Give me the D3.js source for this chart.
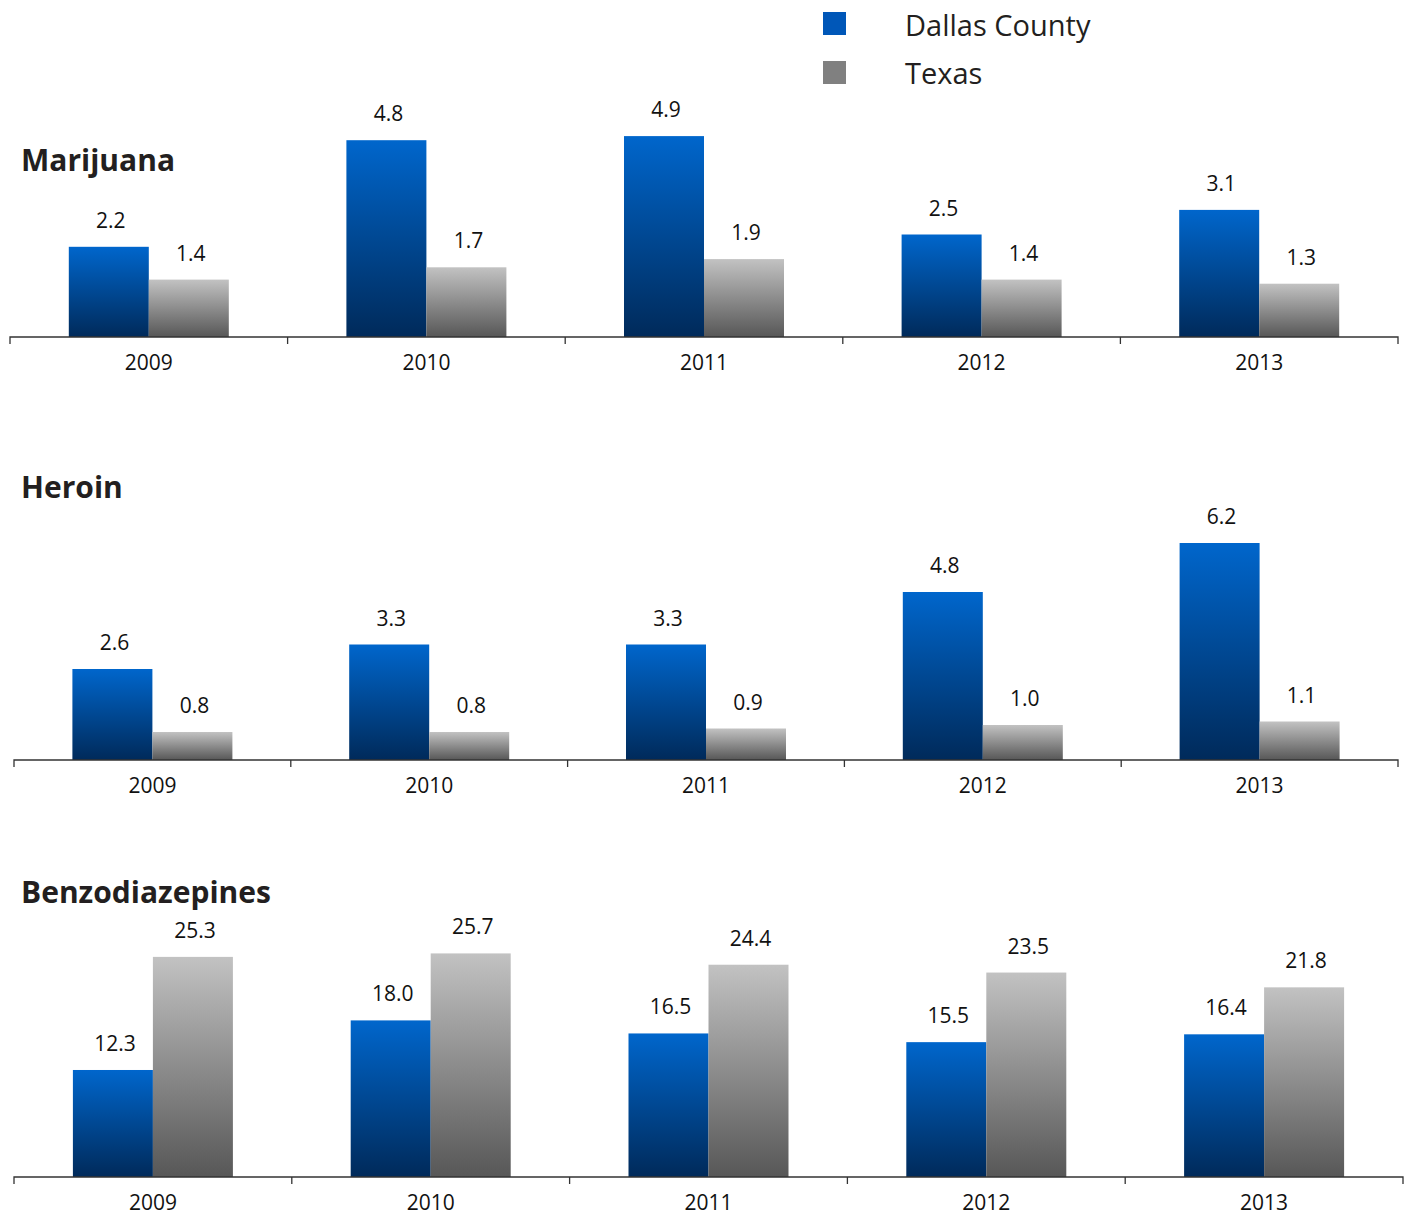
<!DOCTYPE html>
<meta charset="utf-8">
<style>
body { margin: 0; background: #fff; }
text { font-family: "Open Sans", sans-serif; fill: #111; }
.title { font-size: 30px; font-weight: bold; fill: #231f20; }
.val { font-size: 21px; text-anchor: middle; }
.axis text { font-size: 21px; fill: #111; }
.axis path, .axis line { stroke: #333; stroke-width: 1.3; }
.legend text { font-size: 29px; fill: #231f20; }
</style>
<body>
<script src="https://cdn.jsdelivr.net/npm/d3@7"></script>
<script>
var years = ["2009", "2010", "2011", "2012", "2013"];
var series = ["Dallas County", "Texas"];

var marijuanaDallas = [2.2, 4.8, 4.9, 2.5, 3.1],
    marijuanaTexas  = [1.4, 1.7, 1.9, 1.4, 1.3];
var heroinDallas = [2.6, 3.3, 3.3, 4.8, 6.2],
    heroinTexas  = [0.8, 0.8, 0.9, 1.0, 1.1];
var benzoDallas = [12.3, 18.0, 16.5, 15.5, 16.4],
    benzoTexas  = [25.3, 25.7, 24.4, 23.5, 21.8];

var width = 1408, height = 1216;

var svg = d3.select("body").append("svg")
    .attr("width", width)
    .attr("height", height);

// gradients for the bars (per bar, top to bottom)
var defs = svg.append("defs");
function grad(id, top, bottom) {
  var g = defs.append("linearGradient").attr("id", id)
      .attr("x1", 0).attr("y1", 0).attr("x2", 0).attr("y2", 1);
  g.append("stop").attr("offset", "0%").attr("stop-color", top);
  g.append("stop").attr("offset", "100%").attr("stop-color", bottom);
}
grad("gBlue", "#0066cc", "#002a5a");
grad("gGrey", "#c2c2c2", "#575757");

function panel(opts) {
  var x = d3.scaleBand().domain(years).range([opts.left, opts.right]);
  var pad = (x.bandwidth() / 80 - 2) / 2;
  var xs = d3.scaleBand().domain(series).range([0, x.bandwidth()]).paddingOuter(pad);
  var y = d3.scaleLinear().domain([0, opts.max])
      .range([opts.base, opts.base - opts.max * opts.px]);

  svg.append("text")
      .attr("class", "title")
      .attr("x", 21).attr("y", opts.titleY)
      .text(opts.title);

  var rows = years.map(function(yr, i) {
    return {year: yr, vals: [
      {s: "Dallas County", v: opts.dallas[i]},
      {s: "Texas", v: opts.texas[i]}
    ]};
  });

  var grp = svg.selectAll(null)
      .data(rows)
    .enter().append("g")
      .attr("transform", function(d) { return "translate(" + x(d.year) + ",0)"; });

  grp.selectAll("rect")
      .data(function(d) { return d.vals; })
    .enter().append("rect")
      .attr("x", function(d) { return xs(d.s); })
      .attr("width", xs.bandwidth())
      .attr("y", function(d) { return y(d.v); })
      .attr("height", function(d) { return y(0) - y(d.v); })
      .attr("fill", function(d) { return d.s == "Texas" ? "url(#gGrey)" : "url(#gBlue)"; });

  grp.selectAll(".val")
      .data(function(d) { return d.vals; })
    .enter().append("text")
      .attr("class", "val")
      .attr("x", function(d) { return xs(d.s) + xs.bandwidth() / 2 + 2; })
      .attr("y", function(d) { return y(d.v) - 19; })
      .text(function(d) { return d.v.toFixed(1); });

  var ax = svg.append("g")
      .attr("class", "axis")
      .attr("transform", "translate(0," + opts.base + ")")
      .call(d3.axisBottom(x).tickSize(0).tickPadding(18));
  ax.select(".domain").attr("d", "M" + opts.left + ",7V0H" + opts.right + "V7");
  // boundary ticks between categories
  ax.selectAll(".sep")
      .data(years.slice(1))
    .enter().append("line")
      .attr("class", "sep")
      .attr("x1", function(d) { return x(d); }).attr("x2", function(d) { return x(d); })
      .attr("y1", 0).attr("y2", 7);
}

panel({title: "Marijuana", titleY: 171, dallas: marijuanaDallas, texas: marijuanaTexas,
       left: 10, right: 1398, base: 337, max: 5.5, px: 41});
panel({title: "Heroin", titleY: 498, dallas: heroinDallas, texas: heroinTexas,
       left: 14, right: 1398, base: 760, max: 7, px: 35});
panel({title: "Benzodiazepines", titleY: 903, dallas: benzoDallas, texas: benzoTexas,
       left: 14, right: 1403, base: 1177, max: 28, px: 8.7});

// legend
var lg = svg.append("g").attr("class", "legend");
lg.selectAll("rect")
    .data(series)
  .enter().append("rect")
    .attr("x", 823)
    .attr("y", function(d, i) { return 12 + i * 49; })
    .attr("width", 23).attr("height", 23)
    .attr("fill", function(d, i) { return i ? "#808080" : "#0057b8"; });
lg.selectAll("text")
    .data(series)
  .enter().append("text")
    .attr("x", 905)
    .attr("y", function(d, i) { return 36 + i * 48; })
    .text(function(d) { return d; });
</script>
</body>
